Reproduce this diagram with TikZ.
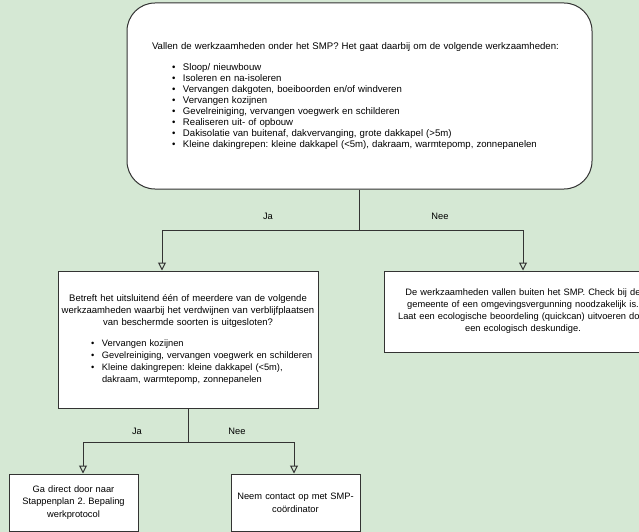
\documentclass[tikz,border=0pt]{standalone}
\usepackage{fontspec}
\setmainfont{Liberation Sans}
\usepackage{tikz}
\usetikzlibrary{arrows.meta}
\definecolor{bggreen}{HTML}{D5E8D4}
\definecolor{edgegray}{HTML}{333333}
\newcommand{\bul}[2]{\hspace*{#1}\makebox[11pt][l]{\textbullet}#2}
\frenchspacing

\begin{document}
\begin{tikzpicture}[x=1pt,y=-1pt,font=\fontsize{9.3}{12}\selectfont\frenchspacing]
\fill[bggreen] (0,0) rectangle (639,532);
\useasboundingbox (0,0) rectangle (639,532);
% boxes
\node(smp)[shape=rectangle,draw=edgegray,line width=1pt,fill=white,rounded corners=28pt,minimum width=465pt,minimum height=186pt,text width=415pt,inner sep=0pt] at (359.5,96){%
\fontsize{9.6}{11}\selectfont
\raggedright Vallen de werkzaamheden onder het SMP? Het gaat daarbij om de volgende werkzaamheden:\par\vspace{10pt}
\bul{20pt}{Sloop/ nieuwbouw}\\
\bul{20pt}{Isoleren en na-isoleren}\\
\bul{20pt}{Vervangen dakgoten, boeiboorden en/of windveren}\\
\bul{20pt}{Vervangen kozijnen}\\
\bul{20pt}{Gevelreiniging, vervangen voegwerk en schilderen}\\
\bul{20pt}{Realiseren uit- of opbouw}\\
\bul{20pt}{Dakisolatie van buitenaf, dakvervanging, grote dakkapel (>5m)}\\
\bul{20pt}{Kleine dakingrepen: kleine dakkapel (<5m), dakraam, warmtepomp, zonnepanelen}\par\vspace*{12pt}};
\node(check)[shape=rectangle,draw=edgegray,line width=1pt,fill=white,minimum width=260pt,minimum height=137pt,text width=260pt,inner sep=0pt] at (188,339.5){%
\centering\fontsize{9.5}{12}\selectfont Betreft het uitsluitend één of meerdere van de volgende\\ werkzaamheden waarbij het verdwijnen van verblijfplaatsen\\ van beschermde soorten is uitgesloten?\par\vspace{9pt}
\raggedright\fontsize{9.3}{12}\selectfont
\bul{33pt}{Vervangen kozijnen}\\
\bul{33pt}{Gevelreiniging, vervangen voegwerk en schilderen}\\
\bul{33pt}{Kleine dakingrepen: kleine dakkapel (<5m),}\\
\hspace*{44pt}dakraam, warmtepomp, zonnepanelen\par\vspace*{12pt}};
\node(buiten)[shape=rectangle,draw=edgegray,line width=1pt,fill=white,minimum width=278pt,minimum height=81pt,text width=278pt,text centered,inner sep=0pt] at (523,311.5){De werkzaamheden vallen buiten het SMP. Check bij de\\ gemeente of een omgevingsvergunning noodzakelijk is.\\ Laat een ecologische beoordeling (quickcan) uitvoeren door\\ een ecologisch deskundige.};
\node(direct)[shape=rectangle,draw=edgegray,line width=1pt,fill=white,minimum width=129pt,minimum height=57pt,text width=125pt,text centered,inner sep=0pt,font=\fontsize{9.3}{12.8}\selectfont] at (73.5,502.5){Ga direct door naar\\ Stappenplan 2. Bepaling\\ werkprotocol};
\node(contact)[shape=rectangle,draw=edgegray,line width=1pt,fill=white,minimum width=129pt,minimum height=57pt,text width=125pt,text centered,inner sep=0pt,font=\fontsize{9.3}{12.8}\selectfont] at (295.5,502.5){Neem contact op met SMP-\\ coördinator};
% connectors
\coordinate(fork1) at (359.5,230);
\coordinate(jaleft) at (162,230);
\coordinate(neeright) at (523,230);
\coordinate(fork2) at (188,442);
\coordinate(jadirect) at (83,442);
\coordinate(neecontact) at (294,442);
\draw[edgegray,line width=1pt] (smp)--(fork1);
\draw[edgegray,line width=1pt,->,>={Triangle[open,length=8pt,width=8pt]}] (fork1)--(jaleft)--(jaleft|-check.north);
\draw[edgegray,line width=1pt,->,>={Triangle[open,length=8pt,width=8pt]}] (fork1)--(neeright)--(neeright|-buiten.north);
\draw[edgegray,line width=1pt] (check)--(fork2);
\draw[edgegray,line width=1pt,->,>={Triangle[open,length=8pt,width=8pt]}] (fork2)--(jadirect)--(jadirect|-direct.north);
\draw[edgegray,line width=1pt,->,>={Triangle[open,length=8pt,width=8pt]}] (fork2)--(neecontact)--(neecontact|-contact.north);
% labels
\node(ja1) at (268,216){Ja};
\node(nee1) at (440,216){Nee};
\node(ja2) at (137,431){Ja};
\node(nee2) at (237,431){Nee};
\end{tikzpicture}
\end{document}
